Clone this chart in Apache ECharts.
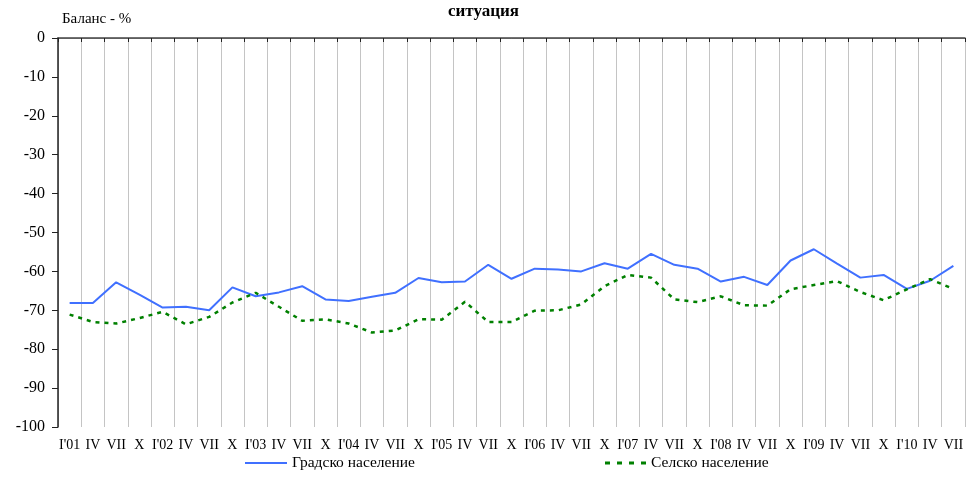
<!DOCTYPE html>
<html><head><meta charset="utf-8">
<script src="https://cdn.jsdelivr.net/npm/echarts@6/dist/echarts.min.js"></script>
<style>html,body{margin:0;padding:0;background:#fff}#c{width:967px;height:494px}</style>
</head><body><div id="c"></div>
<script>
const categories = ["I'01","IV","VII","X","I'02","IV","VII","X","I'03","IV","VII","X","I'04","IV","VII","X","I'05","IV","VII","X","I'06","IV","VII","X","I'07","IV","VII","X","I'08","IV","VII","X","I'09","IV","VII","X","I'10","IV","VII"];
const urban = [-68.1,-68.1,-62.8,-66.0,-69.3,-69.1,-70.0,-64.1,-66.4,-65.4,-63.8,-67.2,-67.6,-66.5,-65.5,-61.7,-62.8,-62.6,-58.3,-61.9,-59.3,-59.5,-60.0,-57.9,-59.3,-55.5,-58.3,-59.3,-62.6,-61.4,-63.5,-57.2,-54.3,-58.0,-61.6,-60.9,-64.5,-62.4,-58.6];
const rural = [-71.1,-73.0,-73.4,-72.0,-70.4,-73.6,-71.7,-68.0,-65.5,-69.1,-72.7,-72.3,-73.4,-75.7,-75.2,-72.3,-72.4,-67.8,-73.0,-73.0,-70.1,-70.0,-68.5,-63.8,-60.9,-61.6,-67.2,-67.9,-66.4,-68.7,-68.8,-64.6,-63.5,-62.5,-65.3,-67.4,-64.6,-62.0,-64.5];
const seriesNames = ["Градско население","Селско население"];
const titleText = "ситуация";
const yAxisName = "Баланс - %";

const font = "'Liberation Serif', 'Times New Roman', serif";
const chart = echarts.init(document.getElementById('c'), null, {renderer:'canvas'});
chart.setOption({
  animation:false,
  title:{text:titleText,left:'center',top:-2,textStyle:{fontFamily:font,fontSize:17,fontWeight:'bold',color:'#000'}},
  legend:[
    {data:[{name:seriesNames[0],icon:'path://M0,0h42v2h-42z'}],left:240,top:450,itemWidth:42,itemHeight:2,itemGap:9,
     textStyle:{fontFamily:font,fontSize:15.5,color:'#000'}},
    {data:[{name:seriesNames[1],icon:'path://M0,0h5v3h-5z M12,0h5v3h-5z M24,0h5v3h-5z M36,0h5v3h-5z'}],left:600,top:450,itemWidth:41,itemHeight:3,itemGap:7,
     textStyle:{fontFamily:font,fontSize:15.5,color:'#000'}}
  ],
  grid:{left:58,right:2,top:38,bottom:67,containLabel:false},
  xAxis:[
    {type:'category',data:categories,boundaryGap:true,position:'bottom',
     axisLine:{show:true,lineStyle:{color:'#aaa',width:1}},
     axisTick:{show:false},
     axisLabel:{interval:0,fontFamily:font,fontSize:14,color:'#000',margin:11},
     splitLine:{show:true,interval:0,lineStyle:{color:'#c4c4c4',width:1}}},
    {type:'category',data:categories,boundaryGap:true,position:'top',
     axisLine:{show:true,lineStyle:{color:'#444',width:1.5}},
     axisTick:{show:true,inside:true,length:4,interval:0,lineStyle:{color:'#222'}},
     axisLabel:{show:false},splitLine:{show:false}}
  ],
  yAxis:{type:'value',min:-100,max:0,interval:10,
    name:yAxisName,nameLocation:'end',nameGap:11,
    nameTextStyle:{fontFamily:font,fontSize:15,color:'#000',align:'left',padding:[0,0,0,4]},
    axisLine:{show:true,lineStyle:{color:'#222',width:1.5}},
    axisTick:{show:true,length:6,lineStyle:{color:'#222'}},
    axisLabel:{fontFamily:font,fontSize:16,color:'#000',margin:13},
    splitLine:{show:false}},
  series:[
    {name:seriesNames[0],type:'line',data:urban,xAxisIndex:0,symbol:'none',
     lineStyle:{color:'#4070ff',width:2},itemStyle:{color:'#4070ff'}},
    {name:seriesNames[1],type:'line',data:rural,xAxisIndex:0,symbol:'none',
     lineStyle:{color:'#008000',width:2.5,type:[4,5]},itemStyle:{color:'#008000'}}
  ]
});
</script></body></html>
